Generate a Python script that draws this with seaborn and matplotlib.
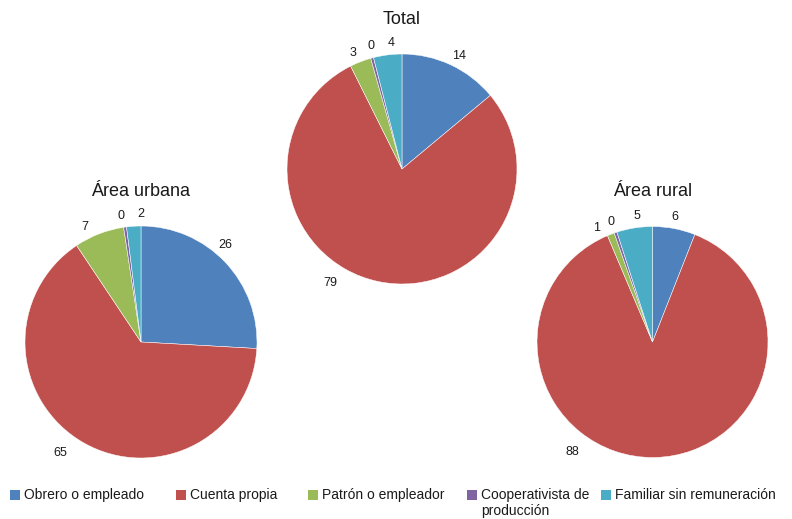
import numpy as np
import matplotlib
matplotlib.use("Agg")
import matplotlib.pyplot as plt
import matplotlib.patches as mpatches
import seaborn as sns

sns.set_theme(style="white")
plt.rcParams['font.family'] = ['Liberation Sans', 'DejaVu Sans']

# Category names and colours
categorias = ["Obrero o empleado", "Cuenta propia", "Patrón o empleador",
              "Cooperativista de\nproducción", "Familiar sin remuneración"]
colores = ["#4F81BD", "#C0504D", "#9BBB59", "#8064A2", "#4BACC6"]

# Percentages per area (the cooperative share is a small sliver shown as 0)
total = [14, 79, 3, 0.4, 4]
urbana = [26, 65, 7, 0.4, 2]
rural = [6, 88, 1, 0.4, 5]

titulos = ["Total", "Área urbana", "Área rural"]

W, H = 792, 519
fig = plt.figure(figsize=(W / 100, H / 100), dpi=100)

L = 1.45  # half-extent of each pie's data window, in radii


def add_pie(cx, cy, r, valores, titulo, label_angles):
    size = 2 * L * r
    ax = fig.add_axes([(cx - size / 2) / W, (H - cy - size / 2) / H, size / W, size / H])
    ax.pie(valores, colors=colores, startangle=90, counterclock=False,
           radius=1.0, wedgeprops=dict(edgecolor="white", linewidth=0.35))
    ax.set_xlim(-L, L)
    ax.set_ylim(-L, L)
    ax.set_aspect("equal")
    ax.axis("off")
    # value labels outside the pie, angles measured clockwise from 12 o'clock
    cum = np.cumsum([0] + list(valores))
    tot = cum[-1]
    for i, v in enumerate(valores):
        mid = (cum[i] + cum[i + 1]) / 2 / tot * 360
        ang, dist = label_angles.get(i, (mid, 1.1))
        t = np.deg2rad(ang)
        ax.text(dist * np.sin(t), dist * np.cos(t), f"{round(v):d}",
                ha="center", va="center", fontsize=9, color="#1a1a1a")
    ax.text(0, 1.30, titulo, ha="center", va="center", fontsize=13, color="#1a1a1a")
    return ax


add_pie(402, 169, 115, total, titulos[0],
        {0: (27, 1.1), 1: (212, 1.17), 2: (337, 1.1), 3: (346, 1.1), 4: (355, 1.1)})
add_pie(141, 342, 116, urbana, titulos[1],
        {0: (41, 1.11), 1: (216, 1.18), 2: (334, 1.1), 3: (351, 1.1), 4: (0, 1.1)})
add_pie(652.5, 342, 115.5, rural, titulos[2],
        {0: (10, 1.1), 1: (216, 1.18), 2: (334, 1.1), 3: (341, 1.1), 4: (353, 1.1)})

# Legend row along the bottom: square key followed by its text, first lines aligned
legend_x = [10, 176, 308, 467, 601]
key_y = 495
for x, c, nombre in zip(legend_x, colores, categorias):
    fig.add_artist(mpatches.Rectangle((x / W, (H - key_y - 5) / H), 10 / W, 10 / H,
                                      transform=fig.transFigure, facecolor=c,
                                      edgecolor="none"))
    fig.text((x + 14) / W, (H - key_y + 7) / H, nombre, ha="left", va="top",
             fontsize=10, color="#1a1a1a", linespacing=1.2)

fig.savefig("out.png", dpi=100)
